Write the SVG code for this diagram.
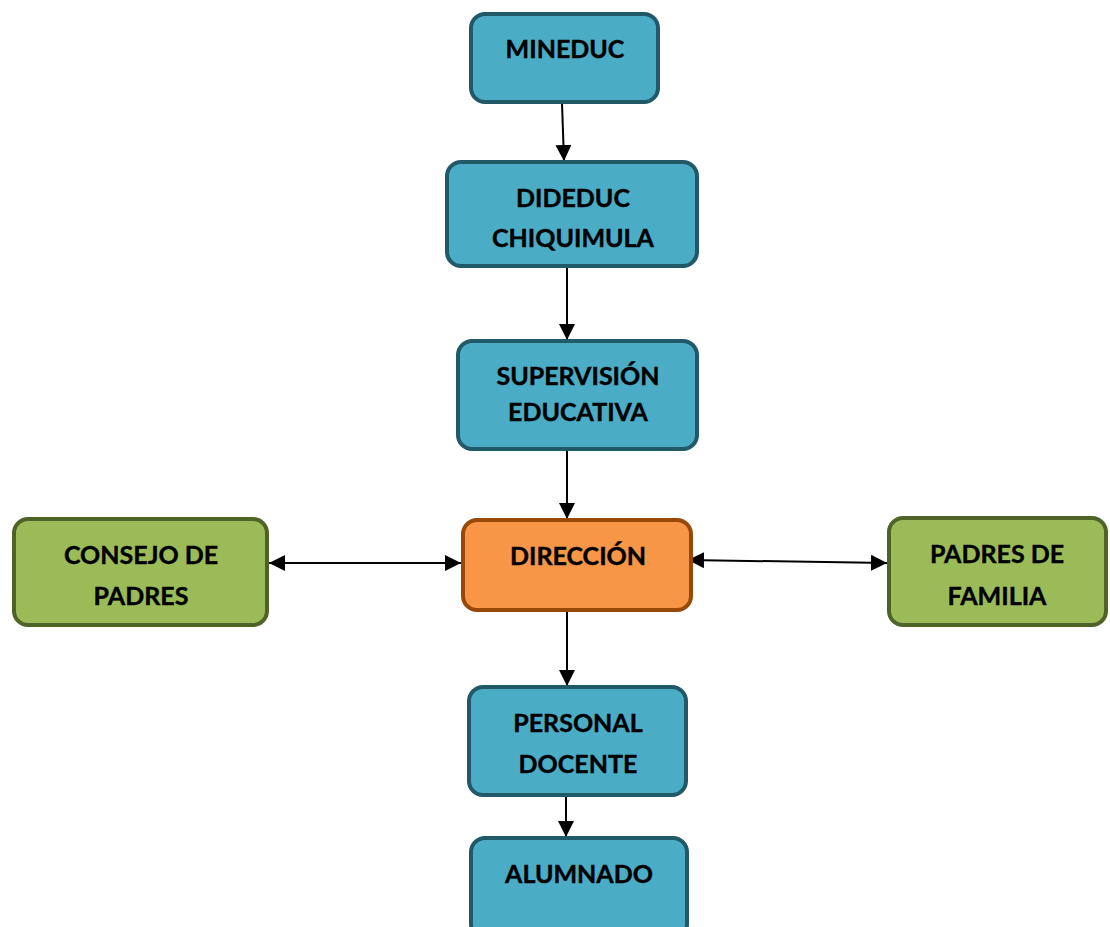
<svg xmlns="http://www.w3.org/2000/svg" width="1110" height="927" viewBox="0 0 1110 927">
<style>
.b rect{fill:#4bacc6;stroke:#215968;stroke-width:4}
.o rect{fill:#f79646;stroke:#984807;stroke-width:4}
.g rect{fill:#9bbb59;stroke:#4f6228;stroke-width:4}
text{font-family:Lato,"Open Sans","Liberation Sans",sans-serif;font-weight:bold;font-size:25px;fill:#000;stroke:#000;stroke-width:0.4;text-anchor:middle}
#connectors line{stroke:#000;stroke-width:2}
</style>
<defs>
<marker id="ah" viewBox="0 0 10 10" refX="10" refY="5" markerWidth="8" markerHeight="8" orient="auto-start-reverse" markerUnits="strokeWidth">
<path d="M0,0 L10,5 L0,10 Z" fill="#000"/>
</marker>
</defs>
<rect width="1110" height="927" fill="#fff"/>
<g id="connectors">
<line x1="562" y1="103" x2="564" y2="161" marker-end="url(#ah)"/>
<line x1="567" y1="266" x2="567" y2="340" marker-end="url(#ah)"/>
<line x1="567" y1="449" x2="567" y2="519" marker-end="url(#ah)"/>
<line x1="269" y1="563" x2="461" y2="563" marker-start="url(#ah)" marker-end="url(#ah)"/>
<line x1="688" y1="560" x2="887" y2="563" marker-start="url(#ah)" marker-end="url(#ah)"/>
<line x1="567" y1="610" x2="567" y2="686" marker-end="url(#ah)"/>
<line x1="566" y1="795" x2="566" y2="837" marker-end="url(#ah)"/>
</g>
<g id="mineduc" class="b"><rect x="471" y="14" width="187" height="88" rx="14"/><text x="565" y="58">MINEDUC</text></g>
<g id="dideduc" class="b"><rect x="447" y="162" width="250" height="104" rx="14"/><text x="573" y="207">DIDEDUC</text><text x="573" y="247">CHIQUIMULA</text></g>
<g id="supervision" class="b"><rect x="458" y="341" width="239" height="108" rx="14"/><text x="578" y="385">SUPERVISIÓN</text><text x="578" y="421">EDUCATIVA</text></g>
<g id="direccion" class="o"><rect x="463" y="520" width="228" height="90" rx="14"/><text x="578" y="565">DIRECCIÓN</text></g>
<g id="consejo" class="g"><rect x="14" y="519" width="253" height="106" rx="14"/><text x="141" y="564">CONSEJO DE</text><text x="141" y="605">PADRES</text></g>
<g id="padres" class="g"><rect x="889" y="518" width="217" height="107" rx="14"/><text x="997" y="563">PADRES DE</text><text x="997" y="605">FAMILIA</text></g>
<g id="personal" class="b"><rect x="469" y="687" width="217" height="108" rx="14"/><text x="578" y="732">PERSONAL</text><text x="578" y="773">DOCENTE</text></g>
<g id="alumnado" class="b"><rect x="471" y="838" width="216" height="100" rx="14"/><text x="579" y="883">ALUMNADO</text></g>
</svg>
